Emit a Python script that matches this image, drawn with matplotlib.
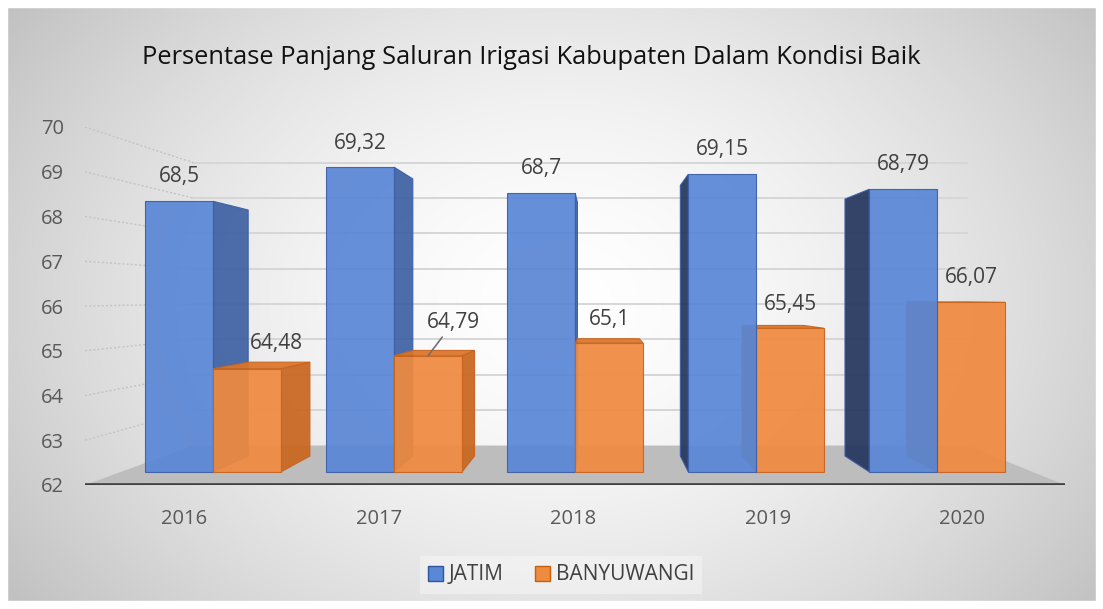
import numpy as np
import matplotlib.pyplot as plt
from matplotlib.patches import Polygon, Patch, Rectangle

plt.rcParams['font.family'] = ['Open Sans', 'DejaVu Sans']

years = ['2016', '2017', '2018', '2019', '2020']
jatim = [68.5, 69.32, 68.7, 69.15, 68.79]
banyuwangi = [64.48, 64.79, 65.1, 65.45, 66.07]
jatim_labels = ['68,5', '69,32', '68,7', '69,15', '68,79']
bwi_labels = ['64,48', '64,79', '65,1', '65,45', '66,07']
yticks = [62, 63, 64, 65, 66, 67, 68, 69, 70]

# label nudges in pixels (dx, dy above front top), as in the excel picture
jatim_nudge = [(0, 25), (0, 24), (0, 25), (0, 25), (0, 25)]
bwi_nudge = [(29, 25), (25, 33), (0, 23), (0, 24), (0, 25)]

# fake perspective: vanishing point and depth scales (data units)
VP = (2.14, 66.2)
S_FRONT, S_BACK, S_WALL = 0.93, 0.846, 0.79
BAR_W = 0.375
BASE = 62
XMIN, XMAX = -0.509, 4.527

W, H = 1103, 609


def proj(x, y, s):
    return (VP[0] + s * (x - VP[0]), VP[1] + s * (y - VP[1]))


def draw_bar(ax, x0, x1, top, front, side_r, side_l, topc, edge):
    faces = []
    if x1 < VP[0]:
        faces.append(([proj(x1, BASE, S_FRONT), proj(x1, top, S_FRONT),
                       proj(x1, top, S_BACK), proj(x1, BASE, S_BACK)], side_r))
    if x0 > VP[0]:
        faces.append(([proj(x0, BASE, S_FRONT), proj(x0, top, S_FRONT),
                       proj(x0, top, S_BACK), proj(x0, BASE, S_BACK)], side_l))
    if top < VP[1]:
        faces.append(([proj(x0, top, S_FRONT), proj(x1, top, S_FRONT),
                       proj(x1, top, S_BACK), proj(x0, top, S_BACK)], topc))
    faces.append(([proj(x0, BASE, S_FRONT), proj(x1, BASE, S_FRONT),
                   proj(x1, top, S_FRONT), proj(x0, top, S_FRONT)], front))
    for pts, c in faces:
        ax.add_patch(Polygon(pts, closed=True, facecolor=c, edgecolor=edge,
                             lw=0.8, alpha=0.93, zorder=3))


fig = plt.figure(figsize=(W / 100, H / 100), dpi=100)
fig.patch.set_facecolor('white')

# background with radial grey gradient
bg = fig.add_axes([0, 0, 1, 1])
gx, gy = np.meshgrid(np.arange(W), np.arange(H))
d = np.sqrt(((gx - 560) / 600.0) ** 2 + ((gy - 300) / 450.0) ** 2)
shade = 1 - 0.2 * np.clip(d, 0, 1.3) ** 1.6
bg.imshow(np.dstack([shade] * 3), extent=[0, W, H, 0], aspect='auto')
bg.add_patch(Rectangle((7, 7), 1089, 594, fill=False, edgecolor='#d0d0d0', lw=1))
bg.add_patch(Rectangle((0, 0), W, 7, color='white'))
bg.add_patch(Rectangle((0, 601), W, 8, color='white'))
bg.add_patch(Rectangle((0, 0), 7, H, color='white'))
bg.add_patch(Rectangle((1096, 0), 7, H, color='white'))
bg.set_xlim(0, W)
bg.set_ylim(H, 0)
bg.axis('off')

ax = fig.add_axes([85 / W, (H - 485) / H, 980 / W, 358 / H])
ax.patch.set_alpha(0)
ax.set_xlim(XMIN, XMAX)
ax.set_ylim(62, 70)
for sp in ax.spines.values():
    sp.set_visible(False)

# back wall grid + left wall dotted lines
for t in yticks[1:]:
    a = proj(XMIN, t, S_WALL)
    b = proj(XMAX, t, S_WALL)
    ax.plot([a[0], b[0]], [a[1], b[1]], color='#d6d6d6', lw=1.4, zorder=1)
    ax.plot([XMIN, a[0]], [t, a[1]], color='#c4c4c4', lw=1, ls=(0, (1.5, 1.5)), zorder=1)

# floor
floor = [proj(XMIN, BASE, 1), proj(XMAX, BASE, 1),
         proj(XMAX, BASE, S_WALL), proj(XMIN, BASE, S_WALL)]
ax.add_patch(Polygon(floor, closed=True, facecolor='#bdbdbd', edgecolor='none', zorder=2))
ax.plot([XMIN, XMAX], [BASE, BASE], color='#3f3f3f', lw=2.6, zorder=6, solid_capstyle='butt')

blue = dict(front='#5a87d6', side_r='#3f62a3', side_l='#25375e', topc='#4a74bf', edge='#3a5ea8')
orange = dict(front='#f08a40', side_r='#c9661f', side_l='#b85a18', topc='#dc7429', edge='#c8641d')

bars = []
for i in range(len(years)):
    bars.append((i - BAR_W, i, jatim[i], blue))
    bars.append((i, i + BAR_W, banyuwangi[i], orange))
bars.sort(key=lambda b: -abs((b[0] + b[1]) / 2 - VP[0]))
for x0, x1, v, c in bars:
    draw_bar(ax, x0, x1, v, **c)

# data labels
px = 0.72
for i in range(len(years)):
    for x0, v, lab, (dx, dy) in [(i - BAR_W, jatim[i], jatim_labels[i], jatim_nudge[i]),
                                  (i, banyuwangi[i], bwi_labels[i], bwi_nudge[i])]:
        cx = proj(x0 + BAR_W / 2, v, S_FRONT)
        if lab == '64,79':
            ax.annotate(lab, xy=cx, xytext=(dx * px, dy * px), textcoords='offset points',
                        ha='center', va='center', fontsize=15, color='#404040', zorder=7,
                        arrowprops=dict(arrowstyle='-', color='#707070', lw=1.2,
                                        shrinkA=1, shrinkB=0))
        else:
            ax.annotate(lab, xy=cx, xytext=(dx * px, dy * px), textcoords='offset points',
                        ha='center', va='center', fontsize=15, color='#404040', zorder=7)

ax.set_yticks(yticks)
ax.set_yticklabels([str(t) for t in yticks])
ax.set_xticks(range(len(years)))
ax.set_xticklabels(years)
ax.tick_params(axis='y', length=0, pad=15, labelsize=14.5, labelcolor='#595959')
ax.tick_params(axis='x', length=0, pad=17, labelsize=14.5, labelcolor='#595959')

fig.text(142 / W, 1 - 58 / H, 'Persentase Panjang Saluran Irigasi Kabupaten Dalam Kondisi Baik',
         ha='left', va='center', fontsize=18.4, color='#111111')

handles = [Patch(facecolor='#5a87d6', edgecolor='#2f55a0', label='JATIM'),
           Patch(facecolor='#f08a40', edgecolor='#c5600f', label='BANYUWANGI')]
leg = fig.legend(handles=handles, loc='center', bbox_to_anchor=(561 / W, 1 - 575 / H),
                 ncol=2, fontsize=15, frameon=True, facecolor='white', framealpha=0.35,
                 edgecolor='none', fancybox=False, handlelength=0.75, handleheight=0.75,
                 handletextpad=0.25, columnspacing=1.5, labelcolor='#404040')

fig.savefig('out.png', dpi=100)
